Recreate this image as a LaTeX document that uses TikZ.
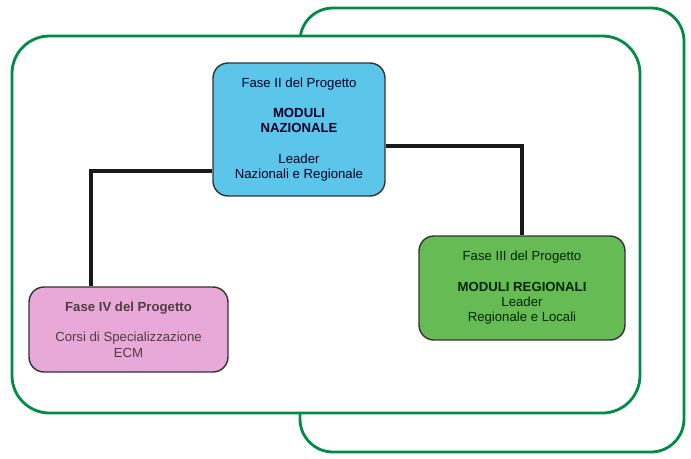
\documentclass[tikz,border=0pt]{standalone}
\usepackage{fontspec}
\setmainfont{Liberation Sans}
\usepackage{tikz}
\usetikzlibrary{calc}
\definecolor{frame}{HTML}{008C45}
\definecolor{blu}{HTML}{5BC5EA}
\definecolor{verde}{HTML}{66BB55}
\definecolor{rosa}{HTML}{E8A8D8}
\tikzstyle{phase} = [rectangle, rounded corners=0.3cm, draw=black!80,
line width=0.8pt, align=center, font=\fontsize{7.5}{8.8}\selectfont,
inner sep=2pt]
\tikzstyle{box} = [draw=frame, line width=1.6pt, rounded corners=0.75cm]
\tikzstyle{link} = [line width=2pt, black!90]

\begin{document}
\begin{tikzpicture}[x=0.02cm, y=-0.02cm]
    \useasboundingbox (0,0) rectangle (691,458);
    % the two frames, the back one half hidden
    \draw [box, rounded corners=0.66cm] (300,8) rectangle (684,452);
    \draw [box, fill=white] (12,36) rectangle (640,413);

    \node (N) [phase, fill=blu, minimum width=3.44cm, minimum height=2.66cm,
      text=black!85!blue] at (299,129.5) {Fase II del Progetto\\[8.4pt]
      \textbf{MODULI}\\ \textbf{NAZIONALE}\\[8.4pt] Leader\\ Nazionali e
      Regionale}; \node (R) [phase, fill=verde, minimum width=4.12cm,
      minimum height=2.08cm, text=black!85!green] at (522,288) {Fase III
      del Progetto\\[8.4pt] \textbf{MODULI REGIONALI}\\ Leader\\ Regionale
      e Locali}; \node (C) [phase, fill=rosa, minimum width=3.98cm, minimum
      height=1.70cm, text=black!80!magenta] at (128.5,329.5) {\textbf{Fase
      IV del Progetto}\\[8.4pt] Corsi di Specializzazione\\ ECM};

    \coordinate (CC) at ($(C.north)+(-37.5,0)$); % corner of the left link
    \coordinate (NW) at ($(N.west)+(0,41.5)$);
    \coordinate (NE) at ($(N.east)+(0,16.5)$);

    \draw [link] (NW) -| (CC); \draw [link] (NE) -| (R.north);

  \end{tikzpicture}
\end{document}
